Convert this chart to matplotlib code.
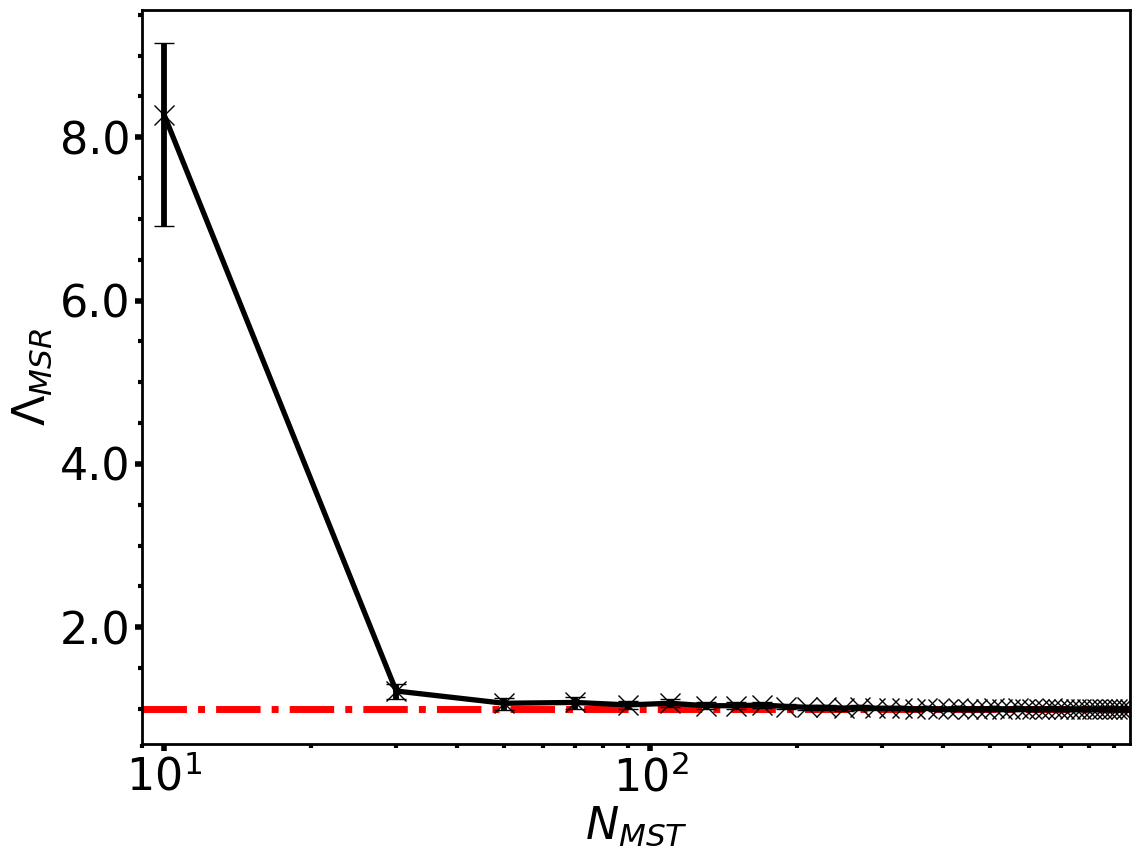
import numpy as np
import matplotlib
matplotlib.use("Agg")
import matplotlib.pyplot as plt
from matplotlib.ticker import FormatStrFormatter, MultipleLocator

n_mst = list(range(10, 971, 20))
lam = [8.27, 1.22, 1.07, 1.08, 1.05, 1.07, 1.04, 1.04, 1.05, 1.03,
       1.02, 1.02, 1.01, 1.02, 1.01, 1.01, 1.01, 1.00, 1.01, 1.00,
       1.00, 1.01, 1.00, 1.00, 1.00, 1.01, 1.00, 1.00, 1.01, 1.00,
       1.00, 1.00, 1.00, 1.01, 1.00, 1.00, 1.00, 1.00, 1.00, 1.00,
       1.00, 1.00, 1.00, 1.00, 1.00, 1.00, 1.00, 1.00, 1.00]
err_lo = [1.36, 0.10, 0.08, 0.08, 0.05, 0.05, 0.04, 0.04, 0.04, 0.03,
          0.03, 0.03, 0.03, 0.03, 0.02, 0.02, 0.02, 0.02, 0.02, 0.02,
          0.02, 0.02, 0.02, 0.02, 0.02, 0.02, 0.02, 0.02, 0.02, 0.02,
          0.02, 0.02, 0.02, 0.02, 0.02, 0.02, 0.02, 0.02, 0.02, 0.02,
          0.02, 0.02, 0.02, 0.02, 0.02, 0.02, 0.02, 0.02, 0.02]
err_hi = [0.88, 0.08, 0.07, 0.07, 0.05, 0.05, 0.04, 0.04, 0.04, 0.03,
          0.03, 0.03, 0.03, 0.03, 0.02, 0.02, 0.02, 0.02, 0.02, 0.02,
          0.02, 0.02, 0.02, 0.02, 0.02, 0.02, 0.02, 0.02, 0.02, 0.02,
          0.02, 0.02, 0.02, 0.02, 0.02, 0.02, 0.02, 0.02, 0.02, 0.02,
          0.02, 0.02, 0.02, 0.02, 0.02, 0.02, 0.02, 0.02, 0.02]
ref_value = 1.0
x_limits = (9, 970)

fig = plt.figure(figsize=(11.39, 8.59), dpi=100)
ax = fig.add_axes([0.1247, 0.1339, 0.8674, 0.8545])

ax.errorbar(n_mst, lam, yerr=[err_lo, err_hi], fmt='x-', color='k',
            lw=3.8, elinewidth=4.2, capsize=7.5, capthick=1.2,
            ms=15, mew=1.0, zorder=3)
ax.axhline(ref_value, color='red', ls='-.', lw=5, zorder=2)

ax.set_xscale('log')
ax.set_xlim(*x_limits)
ax.yaxis.set_major_locator(MultipleLocator(2))
ax.yaxis.set_major_formatter(FormatStrFormatter('%.1f'))
ax.yaxis.set_minor_locator(MultipleLocator(0.5))

ax.tick_params(which='major', direction='out', length=5, width=4, labelsize=32)
ax.tick_params(which='minor', direction='out', length=3, width=3)
for s in ax.spines.values():
    s.set_linewidth(2)

ax.set_xlabel(r'$N_{MST}$', fontsize=32, labelpad=3)
ax.set_ylabel(r'$\Lambda_{MSR}$', fontsize=32, labelpad=4)

fig.savefig('out.png', dpi=100)
